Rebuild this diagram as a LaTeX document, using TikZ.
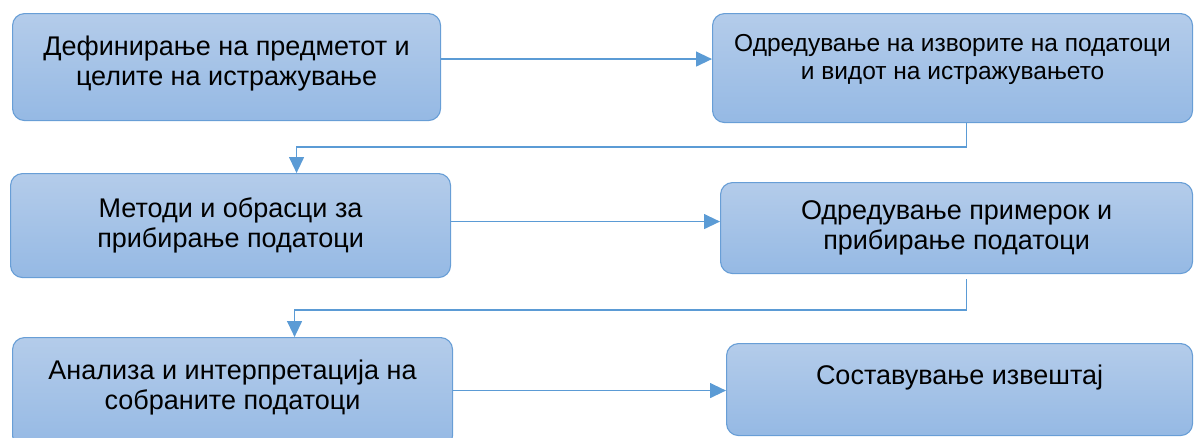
\documentclass[tikz,border=0pt]{standalone}
\usepackage{fontspec}
\setmainfont{Liberation Sans}
\usepackage{tikz}
\usetikzlibrary{arrows.meta}
\definecolor{boxtop}{RGB}{180, 204, 234}
\definecolor{boxbottom}{RGB}{149, 185, 228}
\definecolor{boxline}{RGB}{104, 158, 214}
\definecolor{flowblue}{RGB}{91, 155, 213}
\tikzstyle{stepbox} = [
	draw=boxline,
	line width=1.1pt,
	rounded corners=12pt,
	top color=boxtop,
	bottom color=boxbottom,
	anchor=north west,
	align=center,
	inner sep=0pt,
	font=\fontsize{27}{30}\selectfont,
]
\tikzstyle{flowarrow} = [
	draw=flowblue,
	line width=1.3pt,
	-{Triangle[length=16pt, width=15pt]},
]

\begin{document}
\begin{tikzpicture}[x=1pt, y=-1pt]
	\useasboundingbox (0,0) rectangle (1194,437);
	
	%
	% Left column
	\node[stepbox, minimum width=428pt, minimum height=107pt, text depth=13pt] at (12,13) (Goal) {Дефинирање на предметот и\\целите на истражување};
	\node[stepbox, minimum width=440pt, minimum height=104pt] at (10,173) (Method) {Методи и обрасци за\\прибирање податоци};
	\node[stepbox, minimum width=440pt, minimum height=110pt, text depth=16pt] at (12,337) (Analysis) {Анализа и интерпретација на\\собраните податоци};
	
	%
	% Right column
	\node[stepbox, minimum width=480pt, minimum height=109pt, text depth=22pt, font=\fontsize{24.5}{28}\selectfont] at (712,13) (Source) {Одредување на изворите на податоци\\и видот на истражувањето};
	\node[stepbox, minimum width=472pt, minimum height=91pt] at (720,182) (Sample) {Одредување примерок и\\прибирање податоци};
	\node[stepbox, minimum width=466pt, minimum height=92pt, text depth=29pt] at (726,343) (Report) {Составување извештај};
	
	%
	% Arrows
	
	% across
	\draw[flowarrow] ([yshift=8pt]Goal.east) -- ([yshift=8pt]Goal.east -| Source.west);
	\draw[flowarrow] ([yshift=4pt]Method.east) -- ([yshift=4pt]Method.east -| Sample.west);
	\draw[flowarrow] ([yshift=2pt]Analysis.east) -- ([yshift=2pt]Analysis.east -| Report.west);
	
	% down to the next row
	\draw[flowarrow] ([xshift=14pt]Source.south) -- ++(0,24) -| ([xshift=66pt]Method.north);
	\draw[flowarrow, shorten <=5pt] ([xshift=10pt]Sample.south) -- ++(0,36) -| ([xshift=62pt]Analysis.north);
	
\end{tikzpicture}
\end{document}
